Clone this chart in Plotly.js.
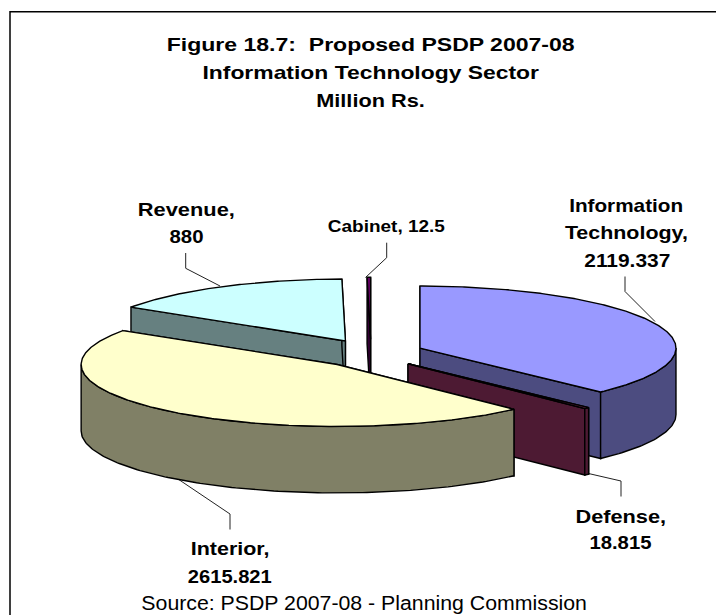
<!DOCTYPE html>
<html>
<head>
<meta charset="utf-8">
<script src="https://cdn.plot.ly/plotly-3.0.1.min.js"></script>
<style>
  html, body { margin: 0; padding: 0; background: #fff; }
  #chart { width: 716px; height: 615px; }
</style>
</head>
<body>
<div id="chart"></div>
<script>
// Sector allocations, in slice order clockwise from twelve o'clock.
const categories = ['Information Technology', 'Defense', 'Interior', 'Revenue', 'Cabinet'];
const allocations = [2119.337, 18.815, 2615.821, 880, 12.5];
const topColors = ['#9999FF', '#993366', '#FFFFCC', '#CCFFFF', '#660066'];
const sideColors = ['#4C4C80', '#4D1A33', '#808066', '#668080', '#330033'];

// Back-to-front order for painting the exploded slices.
const paintOrder = [3, 4, 0, 1, 2];

// Pie projection, in page pixels.
const pie = { cx: 371, cy: 353.5, rx: 256, ry: 62, depth: 66.5, explodeX: 0.207, explodeY: 0.23 };
const edge = { color: '#000', width: 1.4 };

const FONT = '"Liberation Sans", Arial, sans-serif';
const total = allocations.reduce((a, b) => a + b, 0);
const rad = d => d * Math.PI / 180;
const rimX = d => pie.rx * Math.sin(rad(d));
const rimY = d => -pie.ry * Math.cos(rad(d));

function face(xs, ys, color) {
  return {
    type: 'scatter', mode: 'lines', x: xs, y: ys, fill: 'toself', fillcolor: color,
    line: { color: edge.color, width: edge.width }, hoverinfo: 'skip', showlegend: false
  };
}

// Start and end angle of each slice from its share of the total.
let running = 0;
const spans = allocations.map(v => {
  const a0 = running / total * 360;
  running += v;
  return [a0, running / total * 360];
});

function sliceTraces(i) {
  const [a0, a1] = spans[i];
  const mid = (a0 + a1) / 2;
  const ox = pie.cx + pie.explodeX * rimX(mid);
  const oy = pie.cy + pie.explodeY * rimY(mid);
  const d = pie.depth;
  const out = [];

  // Radial walls.
  [a0, a1].forEach(a => {
    const px = ox + rimX(a), py = oy + rimY(a);
    out.push(face([ox, px, px, ox, ox], [oy, py, py + d, oy + d, oy], sideColors[i]));
  });

  // Outer wall, only where the rim faces the viewer.
  const w0 = Math.max(a0, 90), w1 = Math.min(a1, 270);
  if (w1 > w0) {
    const upper = [], lower = [];
    for (let a = w0; ; a += 1) {
      const t = Math.min(a, w1);
      upper.push([ox + rimX(t), oy + rimY(t)]);
      lower.unshift([ox + rimX(t), oy + rimY(t) + d]);
      if (t >= w1) break;
    }
    const ring = upper.concat(lower, [upper[0]]);
    out.push(face(ring.map(p => p[0]), ring.map(p => p[1]), sideColors[i]));
  }

  // Top surface.
  const xs = [ox], ys = [oy];
  for (let a = a0; ; a += 0.5) {
    const t = Math.min(a, a1);
    xs.push(ox + rimX(t));
    ys.push(oy + rimY(t));
    if (t >= a1) break;
  }
  xs.push(ox); ys.push(oy);
  out.push(face(xs, ys, topColors[i]));
  return out;
}

// Leader lines between labels and slices.
const leaders = [
  [[625, 625, 655], [276.5, 291.5, 321.5]],
  [[588.5, 621, 621], [473.5, 481, 496.5]],
  [[176.5, 230, 230], [478, 514, 529.5]],
  [[185.7, 185.7, 220], [253, 268.3, 286]],
  [[386.7, 386.7, 365.5], [242.7, 257.7, 277.5]]
];
const leaderTraces = leaders.map(l => ({
  type: 'scatter', mode: 'lines', x: l[0], y: l[1],
  line: { color: '#222', width: 1 }, hoverinfo: 'skip', showlegend: false
}));

// Text rows: string, centre x, centre y, size, weight, set width.
const textRows = [
  ['Figure 18.7:\u00a0 Proposed PSDP 2007-08', 370, 44, 18.6, 'bold', 408],
  ['Information Technology Sector', 370, 72.3, 18.6, 'bold', 336.6],
  ['Million Rs.', 370, 100, 18.6, 'bold', 108.6],
  ['Information', 626.3, 205.7, 18.6, 'bold', 114],
  ['Technology,', 626.5, 232.3, 18.6, 'bold', 123],
  ['2119.337', 627, 260, 18.6, 'bold', 86],
  ['Revenue,', 186, 209, 18.6, 'bold', 97],
  ['880', 186.5, 236, 18.6, 'bold', 34],
  ['Cabinet, 12.5', 386.5, 226.7, 16, 'bold', 117],
  ['Defense,', 621.3, 516, 18.6, 'bold', 90.7],
  ['18.815', 620.5, 542.7, 18.6, 'bold', 62],
  ['Interior,', 230, 548.3, 18.6, 'bold', 78.7],
  ['2615.821', 230.3, 576, 18.6, 'bold', 84],
  ['Source: PSDP 2007-08 - Planning Commission', 364, 603, 19.5, 'normal', 445.6]
];

const annotations = textRows.map(r => ({
  text: r[0],
  x: r[1], y: r[2], xref: 'x', yref: 'y',
  xanchor: 'center', yanchor: 'middle', showarrow: false,
  font: { family: FONT, size: r[3], color: '#000', weight: r[4] }
}));

const data = leaderTraces.concat(...paintOrder.map(sliceTraces));

const layout = {
  width: 716, height: 615,
  margin: { l: 0, r: 0, t: 0, b: 0 },
  paper_bgcolor: '#fff', plot_bgcolor: '#fff',
  showlegend: false,
  hovermode: false,
  xaxis: { range: [0, 716], visible: false, fixedrange: true },
  yaxis: { range: [615, 0], visible: false, fixedrange: true },
  annotations: annotations,
  shapes: [{
    type: 'path', xref: 'x', yref: 'y',
    path: 'M 10 615 L 10 11.7 L 716 11.7',
    line: { color: '#000', width: 1.5 }
  }]
};

const chart = document.getElementById('chart');

// Fit each text row to its set width by widening the glyphs.
function fitRows() {
  chart.querySelectorAll('.annotation-text').forEach((el, i) => {
    if (!textRows[i]) return;
    el.setAttribute('textLength', textRows[i][5]);
    el.setAttribute('lengthAdjust', 'spacingAndGlyphs');
  });
}

Plotly.newPlot(chart, data, layout, { displayModeBar: false, staticPlot: true }).then(fitRows);
</script>
</body>
</html>
